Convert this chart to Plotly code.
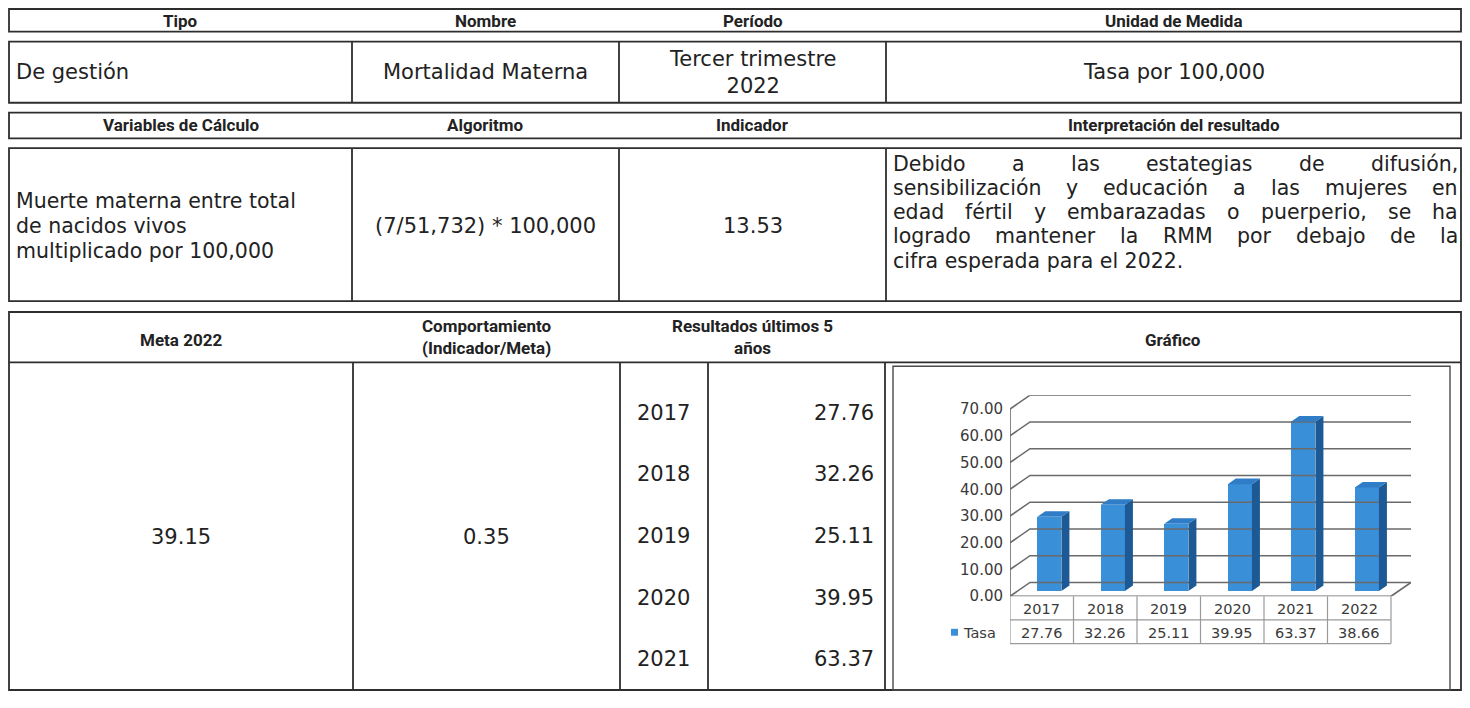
import plotly.graph_objects as go

# ---- datos ----
anios = ["2017", "2018", "2019", "2020", "2021", "2022"]
tasa = [27.76, 32.26, 25.11, 39.95, 63.37, 38.66]
anios_tabla = ["2017", "2018", "2019", "2020", "2021"]
resultados_tabla = [27.76, 32.26, 25.11, 39.95, 63.37]
ticks_y = [0, 10, 20, 30, 40, 50, 60, 70]

encabezado_1 = ["Tipo", "Nombre", "Período", "Unidad de Medida"]
fila_1 = ["De gestión", "Mortalidad Materna", "Tercer trimestre<br>2022", "Tasa por 100,000"]
encabezado_2 = ["Variables de Cálculo", "Algoritmo", "Indicador", "Interpretación del resultado"]
variables = ["Muerte materna entre total", "de nacidos vivos", "multiplicado por 100,000"]
algoritmo = "(7/51,732) * 100,000"
indicador = 13.53
interpretacion = [
    "Debido a las estategias de difusión,",
    "sensibilización y educación a las mujeres en",
    "edad fértil y embarazadas o puerperio, se ha",
    "logrado mantener la RMM por debajo de la",
    "cifra esperada para el 2022.",
]
encabezado_3 = ["Meta 2022", "Comportamiento<br>(Indicador/Meta)", "Resultados últimos 5<br>años", "Gráfico"]
meta = 39.15
comportamiento = 0.35

# el body de la pagina tiene 8px de margen: coordenadas de pagina - 8
OFF = 8
FW, FH = 1470 - 2 * OFF, 708 - 2 * OFF
BORDE = "#2e2e2e"
TXT = "#222222"
FONT = "DejaVu Sans"
FONT_ENC = "Roboto, Liberation Sans, sans-serif"
FS = 21
FS_ENC = 17
AZUL = "#3a8fd9"
AZUL_LADO = "#1d5a95"
AZUL_TOPE = "#2e7dc6"


def X(p):
    return (p - OFF) / FW


def Y(p):
    return 1 - (p - OFF) / FH


shapes = []
notas = []


def linea(x0, y0, x1, y1, color=BORDE, ancho=1.8):
    shapes.append(dict(type="line", xref="paper", yref="paper",
                       x0=X(x0), y0=Y(y0), x1=X(x1), y1=Y(y1),
                       line=dict(color=color, width=ancho)))


def caja(x0, y0, x1, y1, color=BORDE, ancho=1.8):
    shapes.append(dict(type="rect", xref="paper", yref="paper",
                       x0=X(x0), y0=Y(y1), x1=X(x1), y1=Y(y0),
                       line=dict(color=color, width=ancho)))


def texto(x, y, s, size=FS, bold=False, xanchor="center", color=TXT, family=FONT):
    if bold:
        s = "<b>" + s.replace("<br>", "</b><br><b>") + "</b>"
    notas.append(dict(x=X(x), y=Y(y), xref="paper", yref="paper", text=s,
                      showarrow=False, xanchor=xanchor, yanchor="middle", align="center",
                      font=dict(size=size, color=color, family=family)))


# anchos de DejaVu Sans (1/1000 em) para justificar el parrafo
ANCHOS = {'a': 613, 'b': 635, 'c': 550, 'd': 635, 'e': 615, 'f': 352, 'g': 635, 'h': 634,
          'i': 278, 'j': 278, 'k': 579, 'l': 278, 'm': 974, 'n': 634, 'o': 612, 'p': 635,
          'q': 635, 'r': 411, 's': 521, 't': 392, 'u': 634, 'v': 592, 'w': 818, 'x': 592,
          'y': 592, 'z': 525, ' ': 318, ',': 318, '.': 318, 'R': 695, 'M': 863, 'D': 770,
          'á': 613, 'é': 615, 'í': 278, 'ó': 612, 'ú': 634}


def ancho(s, size):
    return sum(ANCHOS.get(c, 636) for c in s) * size / 1000


def justificado(x0, x1, y, s, size):
    palabras = s.split(" ")
    total = sum(ancho(p, size) for p in palabras)
    hueco = (x1 - x0 - total) / (len(palabras) - 1)
    x = x0
    for p in palabras:
        texto(x, y, p, size=size, xanchor="left")
        x += ancho(p, size) + hueco


# ---- estructura de la tabla ----
IZQ, DER = 9, 1461
C = [IZQ, 352, 619, 886, DER]
centros = [(C[i] + C[i + 1]) / 2 for i in range(4)]

caja(IZQ, 9, DER, 32)
for c, s in zip(centros, encabezado_1):
    texto(c, 21, s, size=FS_ENC, bold=True, family=FONT_ENC)

caja(IZQ, 42, DER, 104)
for c in C[1:4]:
    linea(c, 42, c, 104)
texto(C[0] + 5, 73, fila_1[0], xanchor="left")
for c, s in zip(centros[1:], fila_1[1:]):
    texto(c, 73, s)

caja(IZQ, 114, DER, 140)
for c, s in zip(centros, encabezado_2):
    texto(c, 127, s, size=FS_ENC, bold=True, family=FONT_ENC)

caja(IZQ, 150, DER, 305)
for c in C[1:4]:
    linea(c, 150, c, 305)
for k, s in enumerate(variables):
    texto(C[0] + 5, 204 + 25 * k, s, size=20.5, xanchor="left")
texto(centros[1], 229, algoritmo)
texto(centros[2], 229, f"{indicador:.2f}")
FS_P = 20.5
for k, s in enumerate(interpretacion):
    yy = 166 + 24.5 * k
    if k < len(interpretacion) - 1:
        justificado(C[3] + 5, C[4] - 5, yy, s, FS_P)
    else:
        texto(C[3] + 5, yy, s, size=FS_P, xanchor="left")

# bloque inferior
C2 = [IZQ, 353, 620, 708, 885, DER]
ABAJO = 699
caja(IZQ, 316, DER, ABAJO)
linea(IZQ, 367, DER, 367)
for c in C2[1:5]:
    linea(c, 367, c, ABAJO)
caja(893, 371, 1450, ABAJO, color="#4a4a4a", ancho=1.4)

texto((C2[0] + C2[1]) / 2, 344, encabezado_3[0], size=FS_ENC, bold=True, family=FONT_ENC)
texto((C2[1] + C2[2]) / 2, 341, encabezado_3[1], size=FS_ENC, bold=True, family=FONT_ENC)
texto((C2[2] + C2[4]) / 2, 341, encabezado_3[2], size=FS_ENC, bold=True, family=FONT_ENC)
texto((C2[4] + C2[5]) / 2, 344, encabezado_3[3], size=FS_ENC, bold=True, family=FONT_ENC)

texto((C2[0] + C2[1]) / 2, 544, f"{meta:.2f}")
texto((C2[1] + C2[2]) / 2, 544, f"{comportamiento:.2f}")
for k, (a, v) in enumerate(zip(anios_tabla, resultados_tabla)):
    yy = 418 + 62.5 * k
    texto(663, yy, a)
    texto(876, yy, f"{v:.2f}", xanchor="right")

# ---- grafico de columnas 3D ----
n = len(anios)
CW = 63.5           # px por categoria
x_front0 = 1010
y_cero = 604
ymax = ticks_y[-1]
ppu = 2.71          # px por unidad
y_tope = y_cero - ymax * ppu
DX, DY = 20, 14     # profundidad de la pared del fondo
dxu, dyu = DX / CW, DY / ppu

fig = go.Figure()

gx, gy = [], []
for t in ticks_y:
    gx += [-0.5, -0.5 + dxu, n - 0.5 + dxu, None]
    gy += [t, t + dyu, t + dyu, None]
gx += [-0.5, -0.5, None, n - 0.5, n - 0.5 + dxu, None, -0.5, n - 0.5]
gy += [0, ymax, None, 0, dyu, None, 0, 0]
fig.add_trace(go.Scatter(x=gx, y=gy, mode="lines", line=dict(color="#6a6a6a", width=1.6),
                         hoverinfo="skip", showlegend=False))

f, d, bw = 0.38, 0.4, 0.38
xs = [i + f * dxu for i in range(n)]
fig.add_trace(go.Bar(x=xs, y=tasa, base=f * dyu, width=bw,
                     marker=dict(color=AZUL, line=dict(width=0)),
                     name="Tasa", showlegend=False))

sx, sy, tx, ty = [], [], [], []
for i, v in enumerate(tasa):
    xr = xs[i] + bw / 2
    xl = xs[i] - bw / 2
    b = f * dyu
    sx += [xr, xr + d * dxu, xr + d * dxu, xr, None]
    sy += [b, b + d * dyu, b + v + d * dyu, b + v, None]
    tx += [xl, xr, xr + d * dxu, xl + d * dxu, None]
    ty += [b + v, b + v, b + v + d * dyu, b + v + d * dyu, None]
fig.add_trace(go.Scatter(x=sx, y=sy, mode="lines", fill="toself", fillcolor=AZUL_LADO,
                         line=dict(width=0, color=AZUL_LADO), hoverinfo="skip", showlegend=False))
fig.add_trace(go.Scatter(x=tx, y=ty, mode="lines", fill="toself", fillcolor=AZUL_TOPE,
                         line=dict(width=0, color=AZUL_TOPE), hoverinfo="skip", showlegend=False))

# tabla de datos bajo el grafico
GRIS = "#9a9a9a"
leg_x = -0.5 - (x_front0 - 947) / CW
y_f1, y_f2, y_f3 = y_cero, 628, 652
for yy in (y_f2, y_f3):
    shapes.append(dict(type="line", xref="x", yref="paper", x0=leg_x, x1=n - 0.5, y0=Y(yy), y1=Y(yy),
                       line=dict(color=GRIS, width=1.2)))
shapes.append(dict(type="line", xref="x", yref="paper", x0=leg_x, x1=leg_x, y0=Y(y_f2), y1=Y(y_f3),
                   line=dict(color=GRIS, width=1.2)))
for k in range(n + 1):
    shapes.append(dict(type="line", xref="x", yref="paper", x0=k - 0.5, x1=k - 0.5, y0=Y(y_f1), y1=Y(y_f3),
                       line=dict(color=GRIS, width=1.2)))
FONT_G = "DejaVu Sans"
for i, (a, v) in enumerate(zip(anios, tasa)):
    notas.append(dict(x=i, y=Y((y_f1 + y_f2) / 2 + 1), xref="x", yref="paper", text=a,
                      showarrow=False, yanchor="middle",
                      font=dict(size=14.5, color="#3a3a3a", family=FONT_G)))
    notas.append(dict(x=i, y=Y((y_f2 + y_f3) / 2 + 1), xref="x", yref="paper", text=f"{v:.2f}",
                      showarrow=False, yanchor="middle",
                      font=dict(size=14.5, color="#3a3a3a", family=FONT_G)))
shapes.append(dict(type="rect", xref="paper", yref="paper", x0=X(951), x1=X(958), y0=Y(644), y1=Y(637),
                   fillcolor=AZUL, line=dict(width=0)))
texto(961, 641, "Tasa", size=14.5, xanchor="left", color="#3a3a3a", family=FONT_G)

fig.update_layout(
    width=FW, height=FH, autosize=False,
    margin=dict(l=0, r=0, t=0, b=0),
    paper_bgcolor="white", plot_bgcolor="rgba(0,0,0,0)",
    showlegend=False, bargap=0,
    xaxis=dict(domain=[X(x_front0), X(x_front0 + n * CW + DX)], range=[-0.5, n - 0.5 + dxu],
               visible=False, fixedrange=True),
    yaxis=dict(domain=[Y(y_cero), Y(y_tope - DY)], range=[0, ymax + dyu],
               tickvals=ticks_y, ticktext=[f"{t:.2f}" for t in ticks_y],
               showgrid=False, zeroline=False, showline=False, ticks="",
               ticklabelstandoff=6, fixedrange=True,
               tickfont=dict(size=15, color="#3a3a3a", family=FONT_G)),
    shapes=shapes,
    annotations=notas,
)

fig.write_html("out.html")
